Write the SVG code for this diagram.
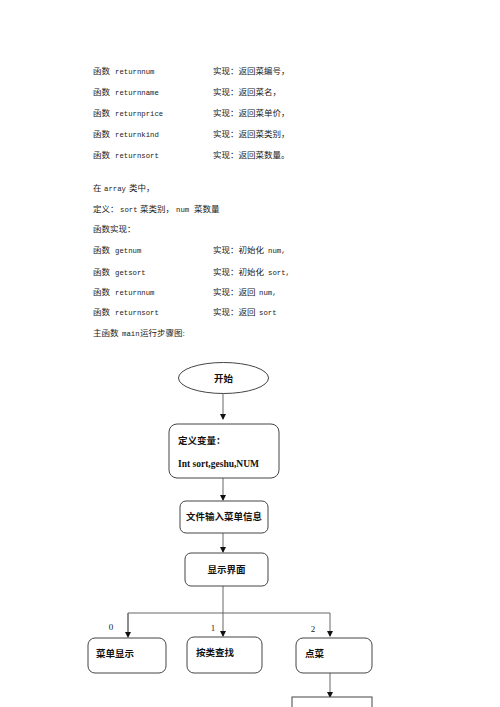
<svg xmlns="http://www.w3.org/2000/svg" width="500" height="707" viewBox="0 0 500 707">
<defs>
<marker id="arr" markerWidth="6" markerHeight="6" refX="5" refY="3" orient="auto" markerUnits="userSpaceOnUse">
<path d="M0,0 L6,3 L0,6 Z" fill="#111"/>
</marker>
<style>
.t{font-family:"Liberation Serif","Noto Sans CJK SC",serif;font-size:8.5px;fill:#222}
.m{font-family:"Liberation Mono",monospace;font-size:7.3px;fill:#222}
.b{font-family:"Liberation Serif","Noto Sans CJK SC",serif;font-size:9.5px;font-weight:bold;fill:#111}
.box{fill:#fff;stroke:#444;stroke-width:1}
.ln{fill:none;stroke:#666;stroke-width:1}
.lbl{font-family:"Liberation Serif",serif;font-size:9px;fill:#222}
</style>
</defs>
<g id="text-top">
<text class="t" x="93" y="74">函数 <tspan class="m" x="115">returnnum</tspan><tspan x="213">实现：返回菜编号，</tspan></text>
<text class="t" x="93" y="95">函数 <tspan class="m" x="115">returnname</tspan><tspan x="213">实现：返回菜名，</tspan></text>
<text class="t" x="93" y="116">函数 <tspan class="m" x="115">returnprice</tspan><tspan x="213">实现：返回菜单价，</tspan></text>
<text class="t" x="93" y="137">函数 <tspan class="m" x="115">returnkind</tspan><tspan x="213">实现：返回菜类别，</tspan></text>
<text class="t" x="93" y="157.5">函数 <tspan class="m" x="115">returnsort</tspan><tspan x="213">实现：返回菜数量。</tspan></text>
<text class="t" x="93" y="191">在<tspan class="m" x="104">array</tspan><tspan x="129">类中，</tspan></text>
<text class="t" x="93" y="212">定义：<tspan class="m" x="120">sort</tspan><tspan x="140">菜类别，</tspan><tspan class="m" x="176">num</tspan><tspan x="194">菜数量</tspan></text>
<text class="t" x="93" y="232">函数实现：</text>
<text class="t" x="93" y="253">函数 <tspan class="m" x="115">getnum</tspan><tspan x="213">实现：初始化</tspan><tspan class="m" x="268">num,</tspan></text>
<text class="t" x="93" y="275">函数 <tspan class="m" x="115">getsort</tspan><tspan x="213">实现：初始化</tspan><tspan class="m" x="268">sort,</tspan></text>
<text class="t" x="93" y="295">函数 <tspan class="m" x="115">returnnum</tspan><tspan x="213">实现：返回</tspan><tspan class="m" x="259">num,</tspan></text>
<text class="t" x="93" y="315">函数 <tspan class="m" x="115">returnsort</tspan><tspan x="213">实现：返回</tspan><tspan class="m" x="259">sort</tspan></text>
<text class="t" x="93" y="336">主函数<tspan class="m" x="122">main</tspan><tspan x="140">运行步骤图:</tspan></text>
</g>
<g id="connectors">
<line class="ln" x1="223" y1="393" x2="223" y2="419" marker-end="url(#arr)"/>
<line class="ln" x1="223" y1="478" x2="223" y2="500" marker-end="url(#arr)"/>
<line class="ln" x1="223" y1="533" x2="223" y2="552" marker-end="url(#arr)"/>
<line class="ln" x1="223" y1="586" x2="223" y2="636" marker-end="url(#arr)"/>
<polyline class="ln" points="128,636 128,613 330,613 330,636" marker-end="url(#arr)"/>
<line class="ln" x1="128" y1="613" x2="128" y2="637" marker-end="url(#arr)"/>
<line class="ln" x1="330" y1="673" x2="330" y2="697" marker-end="url(#arr)"/>
<text class="lbl" x="111" y="630" text-anchor="middle">0</text>
<text class="lbl" x="213" y="631" text-anchor="middle">1</text>
<text class="lbl" x="313" y="632" text-anchor="middle">2</text>
</g>
<g id="start">
<ellipse class="box" cx="223.5" cy="378" rx="45" ry="15.5"/>
<text class="b" x="223.5" y="381.5" text-anchor="middle">开始</text>
</g>
<g id="define">
<rect class="box" x="169" y="424" width="110" height="54" rx="8"/>
<text class="b" x="178" y="443.5">定义变量：</text>
<text class="b" x="178" y="466.5">Int sort,geshu,NUM</text>
</g>
<g id="input">
<rect class="box" x="180" y="501" width="88" height="32" rx="6"/>
<text class="b" x="224" y="519.5" text-anchor="middle">文件输入菜单信息</text>
</g>
<g id="display">
<rect class="box" x="185" y="553" width="83" height="33" rx="6"/>
<text class="b" x="226.5" y="572.5" text-anchor="middle">显示界面</text>
</g>
<g id="menu">
<rect class="box" x="88" y="638" width="78" height="35" rx="7"/>
<text class="b" x="96" y="656.5">菜单显示</text>
</g>
<g id="search">
<rect class="box" x="187" y="637" width="75" height="36" rx="7"/>
<text class="b" x="196" y="655.5">按类查找</text>
</g>
<g id="order">
<rect class="box" x="296" y="638" width="76" height="35" rx="7"/>
<text class="b" x="305" y="656.5">点菜</text>
</g>
<g id="next">
<rect class="box" x="292" y="697" width="80" height="20"/>
</g>
</svg>
